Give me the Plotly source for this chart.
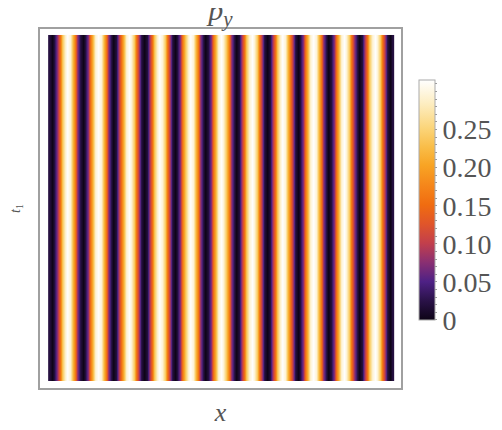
import plotly.graph_objs as go

# one period of the stripe profile of p_y (starts at a dark minimum)
profile = [0.0, 0.021, 0.079, 0.158, 0.236, 0.294, 0.315, 0.294, 0.236, 0.158, 0.079, 0.021]
n_stripes = 11          # number of dark-to-dark periods across the frame
t_rows = [0.25, 0.75]   # the pattern does not change along t1

# colorbar ticks every 0.01, labelled every 0.05
cb_ticks = [i / 100 for i in range(0, 32)]
cb_labels = {0: '0', 5: '0.05', 10: '0.10', 15: '0.15', 20: '0.20', 25: '0.25'}

row = [profile[-1]] + profile * n_stripes + profile[:2]
x_pos = [(k - 1) / len(profile) for k in range(len(row))]
z = [row for _ in t_rows]

sunset = [[0, '#0d0416'], [0.08, '#2a1248'], [0.16, '#4e2185'], [0.24, '#8a2f72'],
          [0.32, '#c23f4c'], [0.40, '#e0552a'], [0.48, '#f06c10'], [0.56, '#f5861a'],
          [0.645, '#f8a424'], [0.72, '#f9bd48'], [0.80, '#fbd57a'], [0.90, '#fdedc0'],
          [1, '#ffffff']]

serif = 'Liberation Serif, Times New Roman, DejaVu Serif, serif'
grey = '#555555'

trace = go.Heatmap(
  x=x_pos, y=t_rows, z=z,
  zmin=0, zmax=0.315,
  zsmooth='best',
  colorscale=sunset,
  colorbar=dict(
    x=1.05, xanchor='left', xref='paper', xpad=0,
    y=0.5237, yanchor='middle', ypad=0,
    thickness=16, lenmode='pixels', len=240,
    outlinecolor='#aaaaaa', outlinewidth=1,
    tickvals=cb_ticks,
    ticktext=[cb_labels.get(round(v * 100), '') for v in cb_ticks],
    ticks='outside', ticklen=2, tickcolor='#999999',
    tickfont=dict(family=serif, size=28, color=grey)),
  hoverinfo='skip')

# the page body adds an 8px offset, so the margins are set 8px smaller on the top/left
layout = go.Layout(
  width=502, height=430,
  margin=dict(l=32, r=109, t=21, b=50, autoexpand=False),
  paper_bgcolor='white', plot_bgcolor='white',
  title=dict(text='<i>p</i><sub><i>y</i></sub>', x=0.5, xref='paper',
             y=1 - 1 / 430, yanchor='middle',
             font=dict(family=serif, size=30, color=grey)),
  xaxis=dict(range=[-0.3905, 11.357], showgrid=False, zeroline=False,
             showticklabels=False, ticks='', automargin=False,
             showline=True, mirror=True, linecolor='#a0a0a0', linewidth=2,
             title=dict(text='<i>x</i>', standoff=14,
                        font=dict(family=serif, size=26, color=grey))),
  yaxis=dict(range=[-0.0202, 1.0173], showgrid=False, zeroline=False,
             showticklabels=False, ticks='', automargin=False,
             showline=True, mirror=True, linecolor='#a0a0a0', linewidth=2,
             title=dict(text='<i>t</i><sub>1</sub>', standoff=16,
                        font=dict(family=serif, size=14, color=grey))))

fig = go.Figure(data=[trace], layout=layout)
fig.write_html("out.html")
